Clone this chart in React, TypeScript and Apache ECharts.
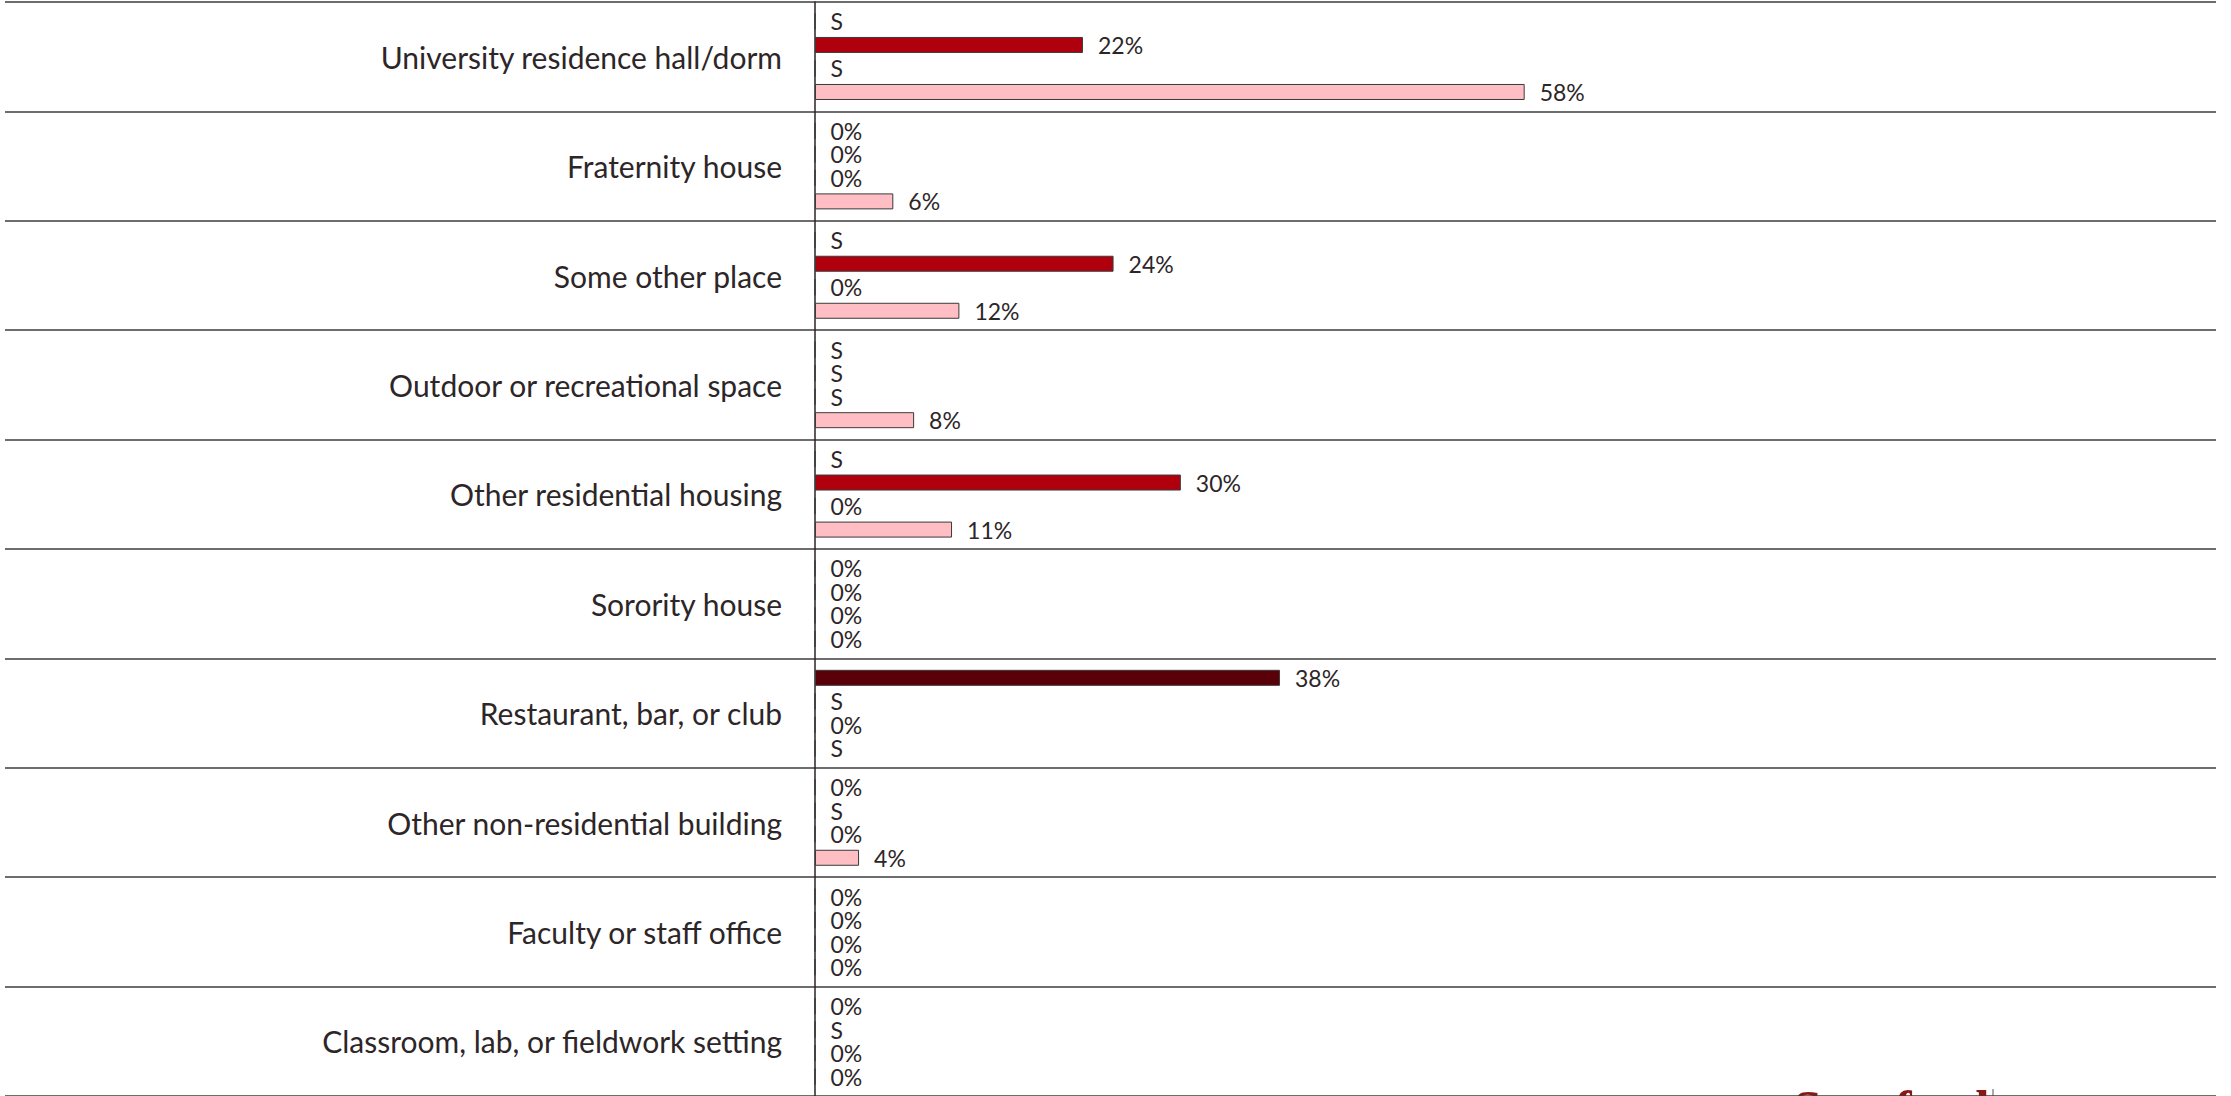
import React, { useEffect, useRef } from 'react';
import * as echarts from 'echarts';

// Categories, top to bottom
const categories: string[] = [
  'University residence hall/dorm',
  'Fraternity house',
  'Some other place',
  'Outdoor or recreational space',
  'Other residential housing',
  'Sorority house',
  'Restaurant, bar, or club',
  'Other non-residential building',
  'Faculty or staff office',
  'Classroom, lab, or fieldwork setting',
];

// Percent values; null = suppressed ("S")
const group1: (number | null)[] = [null, 0, null, null, null, 0, 38.0, 0, 0, 0];
const group2: (number | null)[] = [21.9, 0, 24.4, null, 29.9, 0, null, null, 0, null];
const group3: (number | null)[] = [null, 0, 0, null, 0, 0, 0, 0, 0, 0];
const group4: (number | null)[] = [58.0, 6.4, 11.8, 8.1, 11.2, 0, null, 3.6, 0, 0];

const seriesNames: string[] = ['Group 1', 'Group 2', 'Group 3', 'Group 4'];
const seriesColors: string[] = ['#5a0008', '#b0000e', '#e2535d', '#ffbec4'];
const allValues = [group1, group2, group3, group4];

const TEXT = '#2d2628';
const FONT = 'Lato';

export default function App() {
  const ref = useRef<HTMLDivElement>(null);

  useEffect(() => {
    document.body.style.margin = '0';
    if (!ref.current) return;
    const chart = echarts.init(ref.current, undefined, { renderer: 'svg' });

    const series = allValues.map((vals, si) => ({
      name: seriesNames[si],
      type: 'bar' as const,
      xAxisIndex: 0,
      yAxisIndex: 0,
      barWidth: 16,
      barGap: '47%',
      data: vals.map((v) => (v === null ? 0 : v)),
      itemStyle: {
        color: seriesColors[si],
        borderColor: '#3a3a3a',
        borderWidth: 1,
      },
      label: {
        show: true,
        position: 'right' as const,
        distance: 15,
        fontFamily: FONT,
        fontSize: 23,
        lineHeight: 20,
        color: TEXT,
        formatter: (p: any) => {
          const v = allValues[p.seriesIndex][p.dataIndex];
          return v === null ? 'S' : Math.round(v) + '%';
        },
      },
    }));

    chart.setOption({
      animation: false,
      backgroundColor: '#ffffff',
      textStyle: { fontFamily: FONT },
      grid: [
        { left: 815, top: 2, width: 1401, height: 1095 },
        { left: 5, top: 2, width: 2211, height: 1095 },
      ],
      xAxis: [
        { type: 'value', gridIndex: 0, min: 0, max: 114.5, show: false },
        { type: 'value', gridIndex: 1, min: 0, max: 1, show: false },
      ],
      yAxis: [
        {
          type: 'category',
          gridIndex: 0,
          inverse: true,
          data: categories,
          axisLine: { show: true, lineStyle: { color: '#2b2326', width: 1.5 } },
          axisTick: { show: false },
          splitLine: { show: false },
          axisLabel: {
            interval: 0,
            margin: 33,
            fontFamily: FONT,
            fontSize: 30,
            color: TEXT,
          },
        },
        {
          type: 'category',
          gridIndex: 1,
          inverse: true,
          data: categories,
          axisLine: { show: false },
          axisTick: { show: false },
          axisLabel: { show: false },
          splitLine: {
            show: true,
            interval: 0,
            lineStyle: { color: '#3d3d3d', width: 1.5 },
          },
        },
      ],
      series,
      graphic: [
        {
          type: 'text',
          left: 1793,
          top: 1083,
          style: {
            text: 'Stanford',
            fill: '#8c1515',
            font: 'bold 52px "Liberation Serif"',
          },
        },
        {
          type: 'line',
          shape: { x1: 1993, y1: 1089, x2: 1993, y2: 1120 },
          style: { stroke: '#555555', lineWidth: 1 },
        },
      ],
    });

    return () => {
      chart.dispose();
    };
  }, []);

  return <div ref={ref} style={{ width: 2231, height: 1096, overflow: 'hidden' }} />;
}
